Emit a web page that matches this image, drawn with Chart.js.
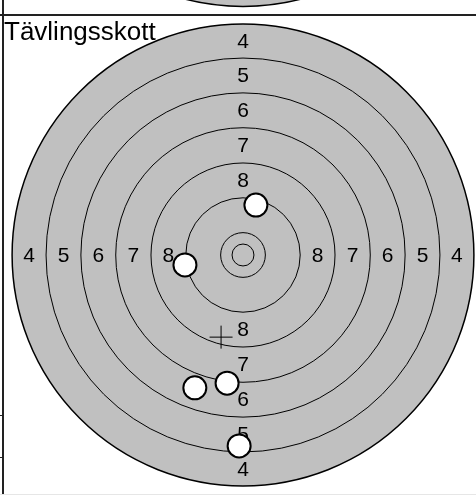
<!DOCTYPE html>
<html lang="sv">
<head>
    <meta charset="UTF-8">
    <title>Tävlingsskott</title>
    <script src="https://cdn.jsdelivr.net/npm/chart.js@4.4.0/dist/chart.umd.min.js"></script>
    <style>
        html, body { margin: 0; padding: 0; background: #fff; }
        #wrap { position: relative; width: 476px; height: 495px; overflow: hidden; }
        #targetChart { position: absolute; left: 0; top: 0; }
        .rule { position: absolute; background: #222; }
    </style>
</head>
<body>
    <div id="wrap">
        <canvas id="targetChart" width="476" height="495"></canvas>
        <div class="rule" style="left:0;top:14px;width:476px;height:2px"></div>
        <div class="rule" style="left:2px;top:0;width:2px;height:495px"></div>
        <div class="rule" style="left:0;top:415px;width:3px;height:1px"></div>
        <div class="rule" style="left:0;top:457px;width:3px;height:1px"></div>
        <div class="rule" style="left:0;top:494px;width:476px;height:1px;background:#e6e6e6"></div>
    </div>

    <script>
        // target in mm, centre of the bull at (0, 0)
        const ringScores = [4, 5, 6, 7, 8, 9, 10];
        const ringRadii = [53.7, 45.8, 37.7, 29.6, 21.4, 13.3, 5.2];
        const innerTenRadius = 2.55;
        const labelScores = [4, 5, 6, 7, 8];

        // shots (mm)
        const shotX = [3.0, -13.5, -3.7, -11.2, -0.9];
        const shotY = [11.6, -2.3, -29.8, -30.9, -44.4];
        // group centre (cross)
        const groupX = [-5.1];
        const groupY = [-19.1];

        // previous target, only its bottom edge shows above the line
        const prevTargetY = 111.5;

        const titleText = 'Tävlingsskott';

        function drawTarget(ctx, xs, ys, cy, withLabels) {
            const cx = xs.getPixelForValue(0);
            const cyPx = ys.getPixelForValue(cy);
            const pxPerMm = xs.getPixelForValue(1) - xs.getPixelForValue(0);

            ctx.beginPath();
            ctx.arc(cx, cyPx, ringRadii[0] * pxPerMm, 0, Math.PI * 2);
            ctx.fillStyle = '#c0c0c0';
            ctx.fill();
            ctx.lineWidth = 1.5;
            ctx.strokeStyle = '#000';
            ctx.stroke();

            ctx.lineWidth = 1;
            const radii = ringRadii.slice(1).concat([innerTenRadius]);
            radii.forEach(r => {
                ctx.beginPath();
                ctx.arc(cx, cyPx, r * pxPerMm, 0, Math.PI * 2);
                ctx.stroke();
            });

            if (!withLabels) return;
            ctx.fillStyle = '#000';
            ctx.font = '21px "Liberation Sans", Arial, sans-serif';
            ctx.textAlign = 'center';
            ctx.textBaseline = 'middle';
            labelScores.forEach(s => {
                const i = ringScores.indexOf(s);
                const mid = (ringRadii[i] + ringRadii[i + 1]) / 2 * pxPerMm;
                ctx.fillText(String(s), cx - mid, cyPx + 1);
                ctx.fillText(String(s), cx + mid, cyPx + 1);
                ctx.fillText(String(s), cx, cyPx - mid + 1);
                ctx.fillText(String(s), cx, cyPx + mid + 1);
            });
        }

        const targetPlugin = {
            id: 'target',
            beforeDatasetsDraw(chart) {
                const ctx = chart.ctx;
                const xs = chart.scales.x;
                const ys = chart.scales.y;
                ctx.save();
                drawTarget(ctx, xs, ys, prevTargetY, false);
                drawTarget(ctx, xs, ys, 0, true);
                ctx.restore();
            },
            afterDraw(chart) {
                const ctx = chart.ctx;
                ctx.save();
                ctx.fillStyle = '#000';
                ctx.font = '26px "Liberation Sans", Arial, sans-serif';
                ctx.textAlign = 'left';
                ctx.textBaseline = 'alphabetic';
                ctx.fillText(titleText, 4, 40);
                ctx.restore();
            }
        };

        const pxPerMm = 4.3;
        const ctx = document.getElementById('targetChart');
        new Chart(ctx, {
            type: 'scatter',
            data: {
                datasets: [
                    {
                        data: groupX.map((x, i) => ({ x: x, y: groupY[i] })),
                        pointStyle: 'cross',
                        pointRadius: 11.5,
                        borderColor: '#000',
                        borderWidth: 1
                    },
                    {
                        data: shotX.map((x, i) => ({ x: x, y: shotY[i] })),
                        pointStyle: 'circle',
                        pointRadius: 11.5,
                        backgroundColor: '#fff',
                        borderColor: '#000',
                        borderWidth: 2
                    }
                ]
            },
            options: {
                responsive: false,
                animation: false,
                events: [],
                layout: { padding: 0, autoPadding: false },
                plugins: {
                    legend: { display: false },
                    tooltip: { enabled: false }
                },
                scales: {
                    x: {
                        type: 'linear',
                        display: false,
                        min: -243 / pxPerMm,
                        max: 233 / pxPerMm
                    },
                    y: {
                        type: 'linear',
                        display: false,
                        min: -240 / pxPerMm,
                        max: 255 / pxPerMm
                    }
                }
            },
            plugins: [targetPlugin]
        });
    </script>
</body>
</html>
